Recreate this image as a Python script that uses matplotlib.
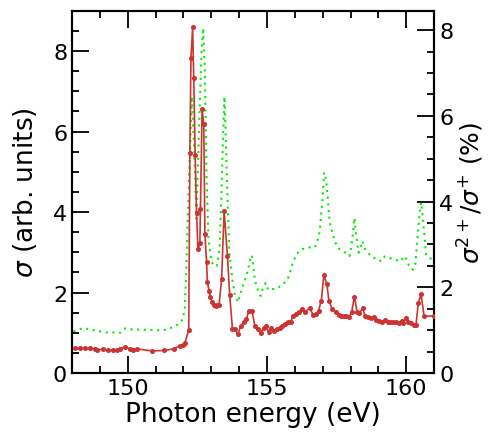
import matplotlib
matplotlib.use("Agg")
from matplotlib import pyplot as plt
from matplotlib.ticker import MultipleLocator

# total cross section (arb. units), left axis
sig_e = [148.11, 148.29, 148.47, 148.65, 148.82, 148.90, 149.11, 149.29, 149.47, 149.61,
         149.72, 149.90, 150.08, 150.19, 150.33, 150.87, 151.30, 151.66, 151.87, 151.98,
         152.05, 152.19, 152.23, 152.27, 152.33, 152.37, 152.42, 152.47, 152.52, 152.59,
         152.61, 152.67, 152.73, 152.77, 152.83, 152.86, 152.92, 152.97, 153.03, 153.10,
         153.16, 153.22, 153.28, 153.37, 153.46, 153.58, 153.66, 153.76, 153.84, 153.96,
         154.06, 154.16, 154.26, 154.35, 154.46, 154.56, 154.68, 154.77, 154.88, 154.95,
         155.06, 155.16, 155.25, 155.36, 155.46, 155.55, 155.66, 155.75, 155.85, 155.93,
         156.03, 156.14, 156.24, 156.35, 156.53, 156.65, 156.75, 156.85, 156.95, 157.04,
         157.15, 157.22, 157.34, 157.46, 157.58, 157.64, 157.75, 157.85, 157.94, 158.04,
         158.14, 158.23, 158.32, 158.43, 158.53, 158.62, 158.72, 158.84, 158.93, 159.03,
         159.14, 159.23, 159.33, 159.43, 159.54, 159.64, 159.73, 159.83, 159.90, 160.00,
         160.07, 160.16, 160.26, 160.35, 160.43, 160.53, 160.64, 160.99]
sig_v = [0.61, 0.62, 0.61, 0.61, 0.60, 0.58, 0.59, 0.57, 0.56, 0.58,
         0.60, 0.65, 0.60, 0.58, 0.60, 0.55, 0.56, 0.60, 0.68, 0.70,
         0.75, 1.07, 5.46, 7.83, 8.59, 7.33, 5.42, 3.97, 3.08, 3.23,
         4.07, 6.56, 6.18, 3.45, 2.77, 2.25, 2.04, 1.88, 1.77, 1.69,
         1.66, 1.69, 1.70, 2.34, 4.02, 2.91, 1.94, 1.09, 1.09, 0.97,
         1.18, 1.26, 1.34, 1.55, 1.55, 1.18, 1.09, 0.99, 1.13, 1.18,
         1.03, 1.13, 1.05, 1.09, 1.13, 1.18, 1.22, 1.26, 1.28, 1.42,
         1.47, 1.51, 1.59, 1.51, 1.62, 1.45, 1.47, 1.55, 1.80, 2.43,
         2.21, 1.80, 1.59, 1.51, 1.44, 1.41, 1.42, 1.41, 1.38, 1.52,
         1.90, 1.52, 1.49, 1.61, 1.41, 1.38, 1.36, 1.38, 1.32, 1.30,
         1.27, 1.32, 1.28, 1.27, 1.26, 1.27, 1.24, 1.30, 1.24, 1.37,
         1.26, 1.24, 1.20, 1.20, 1.74, 1.96, 1.41, 1.42]

# double-to-single ionization ratio (%), right axis
rat_e = [148.05, 148.40, 148.80, 149.10, 149.30, 149.55, 149.75, 149.90, 150.10, 150.60,
         151.10, 151.40, 151.65, 151.85, 151.97, 152.05, 152.10, 152.20, 152.30, 152.40,
         152.47, 152.55, 152.65, 152.71, 152.77, 152.83, 152.90, 153.00, 153.10, 153.20,
         153.30, 153.37, 153.42, 153.47, 153.52, 153.58, 153.65, 153.75, 153.85, 153.96,
         154.02, 154.12, 154.26, 154.32, 154.38, 154.46, 154.50, 154.56, 154.62, 154.71,
         154.77, 154.86, 154.95, 155.04, 155.16, 155.28, 155.39, 155.52, 155.63, 155.75,
         155.84, 155.93, 156.03, 156.15, 156.27, 156.39, 156.51, 156.71, 156.79, 156.86,
         156.91, 156.95, 156.99, 157.05, 157.12, 157.19, 157.25, 157.34, 157.43, 157.54,
         157.68, 157.85, 157.96, 158.02, 158.06, 158.10, 158.14, 158.17, 158.22, 158.29,
         158.36, 158.42, 158.47, 158.54, 158.62, 158.74, 158.86, 158.98, 159.14, 159.22,
         159.37, 159.52, 159.64, 159.76, 159.85, 159.94, 160.00, 160.09, 160.18, 160.23,
         160.32, 160.38, 160.43, 160.47, 160.53, 160.57, 160.63, 160.71, 160.83, 160.92,
         160.98]
rat_v = [0.97, 1.05, 1.00, 0.96, 0.94, 0.95, 0.94, 1.04, 1.02, 1.01,
         1.00, 1.01, 1.08, 1.15, 1.25, 1.50, 2.40, 4.50, 6.45, 5.00,
         3.60, 5.50, 7.50, 8.05, 7.00, 4.50, 3.10, 2.60, 2.50, 2.50,
         2.90, 4.30, 5.50, 6.45, 5.50, 4.10, 2.80, 2.20, 1.80, 1.65,
         1.80, 2.02, 2.27, 2.41, 2.62, 2.75, 2.54, 2.19, 2.03, 1.88,
         1.80, 2.00, 2.10, 1.94, 1.96, 1.96, 2.00, 2.03, 2.11, 2.21,
         2.38, 2.58, 2.73, 2.85, 2.89, 2.91, 2.93, 2.93, 3.05, 3.19,
         3.43, 3.75, 4.02, 4.68, 4.50, 4.02, 3.52, 3.28, 3.08, 2.93,
         2.84, 2.80, 2.73, 2.93, 3.12, 3.36, 3.62, 3.37, 3.12, 2.81,
         2.93, 3.08, 2.97, 2.87, 2.80, 2.73, 2.68, 2.62, 2.62, 2.72,
         2.68, 2.67, 2.64, 2.60, 2.66, 2.73, 2.66, 2.52, 2.46, 2.41,
         2.50, 2.97, 3.36, 3.67, 3.98, 3.75, 3.36, 2.77, 2.68, 2.66,
         2.60]

fig = plt.figure(figsize=(4.9, 4.39), dpi=100)
ax = fig.add_axes([0.147, 0.148, 0.739, 0.825])
ax2 = ax.twinx()

ax2.plot(rat_e, rat_v, color="#00ee00", ls=(0, (1, 2.2)), lw=1.5)
ax.plot(sig_e, sig_v, color="#cc3333", lw=1.2, marker="o", ms=2.6, zorder=3)
ax.set_zorder(ax2.get_zorder() + 1)
ax.patch.set_visible(False)

ax.set_xlim(148, 161)
ax.set_ylim(0, 9)
ax2.set_ylim(0, 8.45)

ax.xaxis.set_major_locator(MultipleLocator(5))
ax.xaxis.set_minor_locator(MultipleLocator(1))
for a in (ax, ax2):
    a.yaxis.set_major_locator(MultipleLocator(2))
    a.yaxis.set_minor_locator(MultipleLocator(0.5))

ax.tick_params(which="both", direction="in", top=True, right=False, labelsize=16, width=1.3)
ax.tick_params(which="major", length=12)
ax.tick_params(which="minor", length=5)
ax2.tick_params(which="both", direction="in", labelsize=16, width=1.3)
ax2.tick_params(which="major", length=12)
ax2.tick_params(which="minor", length=5)

for a in (ax, ax2):
    for s in a.spines.values():
        s.set_linewidth(1.5)

ax.set_xlabel("Photon energy (eV)", fontsize=19, labelpad=2)
ax.set_ylabel(r"$\sigma$ (arb. units)", fontsize=19, labelpad=10)
ax2.set_ylabel(r"$\sigma^{2+}/\sigma^{+}$ (%)", fontsize=18, labelpad=2)

fig.savefig("out.png", dpi=100)
